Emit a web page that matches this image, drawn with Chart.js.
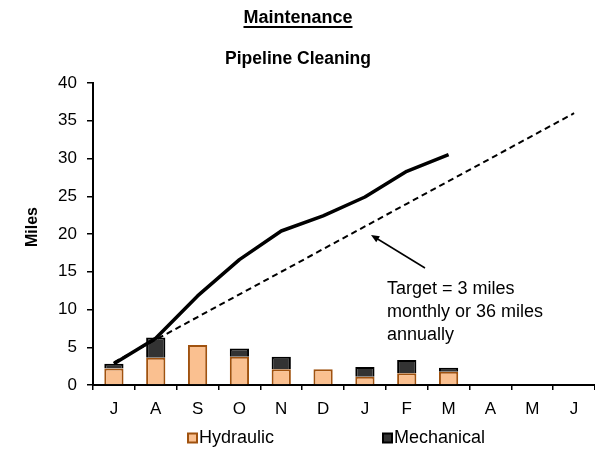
<!DOCTYPE html>
<html>
<head>
<meta charset="utf-8">
<script src="https://cdn.jsdelivr.net/npm/chart.js@4.4.1/dist/chart.umd.min.js"></script>
<style>
html,body{margin:0;padding:0;background:#fff;}
#wrap{width:595px;height:453px;position:relative;}
</style>
</head>
<body>
<div id="wrap"><canvas id="c" width="595" height="453"></canvas></div>
<script>
const months = ['J','A','S','O','N','D','J','F','M','A','M','J'];
const hydraulic = [2.2, 3.6, 5.3, 3.75, 2.1, 2.1, 1.1, 1.55, 1.75, null, null, null];
const mechanical = [0.6, 2.7, 0, 1.1, 1.65, 0, 1.3, 1.75, 0.55, null, null, null];
const cumulative = [2.8, 6.2, 11.8, 16.6, 20.4, 22.4, 24.9, 28.3, 30.5, null, null, null];
const target = [3, 6, 9, 12, 15, 18, 21, 24, 27, 30, 33, 36];
const yTicks = [0, 5, 10, 15, 20, 25, 30, 35, 40];
const titleText = 'Maintenance';
const subtitleText = 'Pipeline Cleaning';
const yTitle = 'Miles';
const noteLines = ['Target = 3 miles', 'monthly or 36 miles', 'annually'];
const legendNames = ['Hydraulic', 'Mechanical'];

const FONT = '"Liberation Sans", Arial, sans-serif';
const hydFill = '#FAC090', hydBorder = '#A0520F';
const mechFill = '#333333', mechBorder = '#000000';

const decor = {
  id: 'decor',
  afterDraw(chart) {
    const ctx = chart.ctx;
    ctx.save();
    ctx.fillStyle = '#000';
    ctx.textAlign = 'center';
    ctx.textBaseline = 'alphabetic';
    // title
    ctx.font = 'bold 18px ' + FONT;
    const tx = 298;
    ctx.fillText(titleText, tx, 23);
    const w = ctx.measureText(titleText).width;
    ctx.fillRect(tx - w / 2, 26, w, 2);
    // subtitle
    ctx.font = 'bold 17.5px ' + FONT;
    ctx.fillText(subtitleText, tx, 64);
    // y title
    ctx.save();
    ctx.translate(37, 227);
    ctx.rotate(-Math.PI / 2);
    ctx.font = 'bold 16px ' + FONT;
    ctx.fillText(yTitle, 0, 0);
    ctx.restore();
    // annotation
    ctx.textAlign = 'left';
    ctx.font = '18px ' + FONT;
    noteLines.forEach((l, i) => ctx.fillText(l, 387, 294 + i * 23));
    // arrow
    ctx.strokeStyle = '#000';
    ctx.lineWidth = 1.5;
    ctx.beginPath();
    ctx.moveTo(425, 268);
    ctx.lineTo(376, 238);
    ctx.stroke();
    const ang = Math.atan2(238 - 268, 376 - 425);
    ctx.beginPath();
    ctx.moveTo(371, 235);
    ctx.lineTo(371 - 9 * Math.cos(ang - 0.4), 235 - 9 * Math.sin(ang - 0.4));
    ctx.lineTo(371 - 9 * Math.cos(ang + 0.4), 235 - 9 * Math.sin(ang + 0.4));
    ctx.closePath();
    ctx.fill();
    // legend
    ctx.font = '18px ' + FONT;
    ctx.textBaseline = 'middle';
    const ly = 438;
    const items = [
      {x: 188, fill: hydFill, stroke: hydBorder, text: legendNames[0]},
      {x: 383, fill: mechFill, stroke: mechBorder, text: legendNames[1]}
    ];
    items.forEach(it => {
      ctx.fillStyle = it.fill;
      ctx.strokeStyle = it.stroke;
      ctx.lineWidth = 2;
      ctx.fillRect(it.x, ly - 4.5, 9, 9);
      ctx.strokeRect(it.x, ly - 4.5, 9, 9);
      ctx.fillStyle = '#000';
      ctx.fillText(it.text, it.x + 11, ly);
    });
    ctx.restore();
  }
};

new Chart(document.getElementById('c'), {
  data: {
    labels: months,
    datasets: [
      {type: 'line', label: 'Target', data: target, stack: 't', borderColor: '#000', borderWidth: 2, borderDash: [6, 4], pointRadius: 0, fill: false, tension: 0, order: 1},
      {type: 'line', label: 'Cumulative', data: cumulative, stack: 'c', borderColor: '#000', borderWidth: 3.5, pointRadius: 0, fill: false, tension: 0, order: 0, borderJoinStyle: 'round'},
      {type: 'bar', label: legendNames[0], data: hydraulic, backgroundColor: hydFill, borderColor: hydBorder, borderWidth: 2, stack: 's', barPercentage: 0.46, categoryPercentage: 1, order: 2},
      {type: 'bar', label: legendNames[1], data: mechanical, backgroundColor: mechFill, borderColor: mechBorder, borderWidth: 2, stack: 's', barPercentage: 0.46, categoryPercentage: 1, order: 3}
    ]
  },
  options: {
    responsive: false,
    animation: false,
    devicePixelRatio: 1,
    layout: {padding: {top: 83, right: 0, bottom: 0, left: 0}},
    plugins: {legend: {display: false}, title: {display: false}, tooltip: {enabled: false}},
    scales: {
      x: {
        stacked: true,
        offset: true,
        grid: {display: true, drawOnChartArea: false, offset: true, color: '#000', lineWidth: 1.5, tickLength: 5, tickColor: '#000'},
        border: {display: true, color: '#000', width: 2},
        ticks: {color: '#000', font: {family: FONT, size: 17}, padding: 9, maxRotation: 0, autoSkip: false},
        afterFit(s) { s.height = 68; }
      },
      y: {
        stacked: true,
        min: 0, max: 40,
        afterBuildTicks(s) { s.ticks = yTicks.map(v => ({value: v})); },
        grid: {display: true, drawOnChartArea: false, color: '#000', lineWidth: 1.5, tickLength: 6, tickColor: '#000'},
        border: {display: true, color: '#000', width: 2},
        ticks: {color: '#000', font: {family: FONT, size: 17}, padding: 10},
        afterFit(s) { s.width = 93; }
      }
    }
  },
  plugins: [decor]
});
</script>
</body>
</html>
